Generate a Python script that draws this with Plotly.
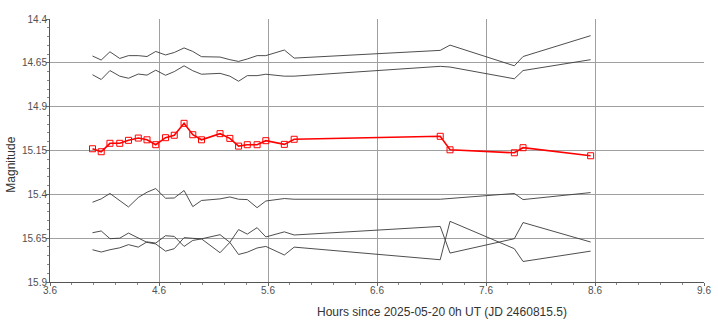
import plotly.graph_objects as go

# Observation times (hours since 2025-05-20 0h UT)
hours = [3.99, 4.07, 4.15, 4.24, 4.32, 4.41, 4.49, 4.57, 4.66, 4.74, 4.83, 4.91, 4.99,
         5.16, 5.25, 5.33, 5.41, 5.50, 5.58, 5.75, 5.84, 7.18, 7.27, 7.86, 7.94, 8.56]

# Target star magnitudes
target_mag = [15.140, 15.157, 15.109, 15.109, 15.092, 15.079, 15.089, 15.117, 15.077,
              15.063, 14.995, 15.060, 15.089, 15.054, 15.081, 15.125, 15.117, 15.117,
              15.094, 15.115, 15.086, 15.069, 15.146, 15.163, 15.134, 15.180]

# Comparison / check star magnitudes
comp_a = [14.611, 14.634, 14.587, 14.625, 14.609, 14.609, 14.614, 14.585, 14.605,
          14.591, 14.565, 14.585, 14.615, 14.617, 14.632, 14.642, 14.628, 14.609,
          14.609, 14.577, 14.623, 14.579, 14.549, 14.667, 14.614, 14.495]
comp_b = [14.718, 14.745, 14.694, 14.726, 14.738, 14.714, 14.720, 14.692, 14.721,
          14.700, 14.667, 14.695, 14.715, 14.710, 14.726, 14.755, 14.723, 14.723,
          14.715, 14.726, 14.726, 14.670, 14.674, 14.741, 14.694, 14.632]
comp_c = [15.445, 15.426, 15.395, 15.434, 15.472, 15.418, 15.388, 15.367, 15.422,
          15.421, 15.378, 15.470, 15.435, 15.426, 15.415, 15.428, 15.430, 15.476,
          15.438, 15.424, 15.428, 15.428, 15.424, 15.395, 15.430, 15.390]
comp_d = [15.619, 15.609, 15.653, 15.650, 15.621, 15.647, 15.674, 15.683, 15.724,
          15.710, 15.647, 15.651, 15.654, 15.630, 15.674, 15.601, 15.627, 15.590,
          15.643, 15.614, 15.632, 15.583, 15.735, 15.653, 15.561, 15.672]
comp_e = [15.716, 15.729, 15.716, 15.705, 15.687, 15.701, 15.671, 15.678, 15.636,
          15.640, 15.697, 15.663, 15.654, 15.733, 15.674, 15.743, 15.730, 15.706,
          15.697, 15.746, 15.701, 15.773, 15.554, 15.710, 15.783, 15.724]

x_range = [3.6, 9.6]
y_range = [15.9, 14.4]

FONT = "Liberation Sans, Arial, sans-serif"

fig = go.Figure()

for series in (comp_a, comp_b, comp_c, comp_d, comp_e):
    fig.add_trace(go.Scatter(
        x=hours, y=series, mode="lines",
        line=dict(color="#3a3a3a", width=0.9),
        hoverinfo="skip", showlegend=False,
    ))

fig.add_trace(go.Scatter(
    x=hours, y=target_mag, mode="lines+markers",
    line=dict(color="#ff0000", width=1.6),
    marker=dict(symbol="square-open", size=6, color="#ff0000", line=dict(width=1)),
    showlegend=False,
))

axis_common = dict(
    automargin=False,
    showgrid=True, gridcolor="#a0a0a0", gridwidth=1,
    zeroline=False, showline=True, linecolor="#555555", linewidth=1,
    ticks="outside", ticklen=3, tickcolor="#666666",
    tickfont=dict(family=FONT, size=10, color="#505050"),
)

fig.update_xaxes(
    range=x_range, tick0=3.6, dtick=1.0,
    minor=dict(dtick=0.2, ticks="outside", ticklen=2, tickcolor="#888888", showgrid=False),
    ticklabelstandoff=-4,
    **axis_common,
)
fig.update_yaxes(
    range=y_range, tick0=14.4, dtick=0.25,
    minor=dict(dtick=0.05, ticks="outside", ticklen=2, tickcolor="#888888", showgrid=False),
    ticklabelstandoff=-3,
    **axis_common,
)

fig.add_annotation(
    text="Hours since 2025-05-20 0h UT (JD 2460815.5)",
    xref="paper", yref="paper", x=0.5994, y=-0.113,
    xanchor="center", yanchor="middle", showarrow=False,
    font=dict(family=FONT, size=12, color="#333333"),
)
fig.add_annotation(
    text="Magnitude", textangle=-90,
    xref="paper", yref="paper", x=-0.0601, y=0.445,
    xanchor="center", yanchor="middle", showarrow=False,
    font=dict(family=FONT, size=12, color="#333333"),
)

fig.update_layout(
    width=718, height=329,
    margin=dict(l=50, r=14, t=19, b=47, autoexpand=False),
    paper_bgcolor="white", plot_bgcolor="white",
)

fig.write_html("out.html")
